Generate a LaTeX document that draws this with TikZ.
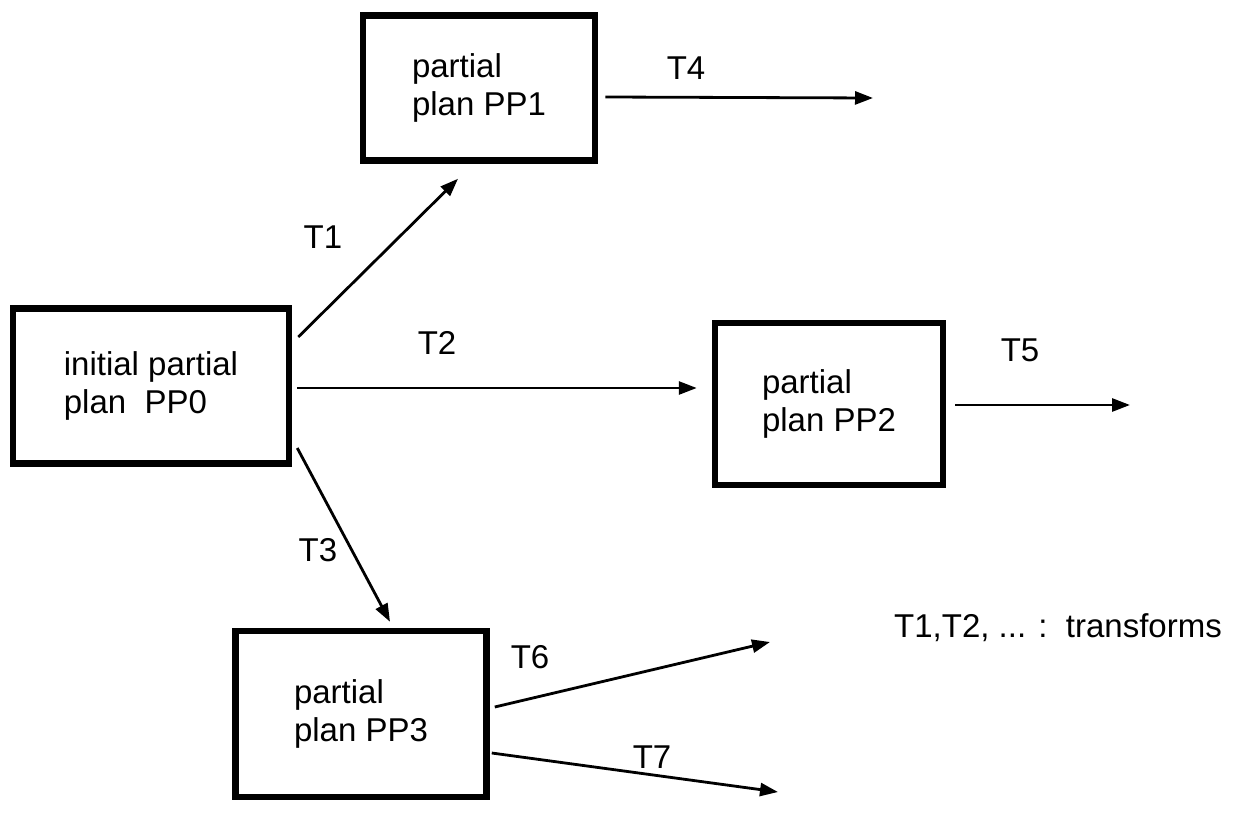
\documentclass[tikz,border=0pt]{standalone}
\usepackage{fontspec}
\setmainfont{Liberation Sans}
\usetikzlibrary{arrows.meta}
\tikzset{
  plan/.style={draw, rectangle, line width=6.5pt, align=left, inner sep=0pt},
  arr/.style={line width=2.8pt, -{Triangle[length=18pt,width=13pt]}},
  lbl/.style={inner sep=0pt}
}
\begin{document}
\begin{tikzpicture}[x=1pt, y=-1pt, font=\fontsize{33}{38}\selectfont]
        \useasboundingbox (0,0) rectangle (1233,813);
        % Plans
        % Define the nodes
        \node[plan, minimum width=276pt, minimum height=155pt] (pp0) at (151,386) {initial partial\\plan~~PP0};
        \node[plan, minimum width=232pt, minimum height=145pt] (pp1) at (479,88) {partial\\plan PP1};
        \node[plan, minimum width=228pt, minimum height=162pt] (pp2) at (829,404) {partial\\plan PP2};
        \node[plan, minimum width=251pt, minimum height=166pt] (pp3) at (361,714) {partial\\plan PP3};
        % Free ends
        \coordinate (e4) at (873,98);
        \coordinate (e5) at (1130,405);
        \coordinate (e6) at (770,642);
        \coordinate (e7) at (778,792);

        % Transforms
        % Connect the nodes
        \draw[arr] ([xshift=6pt,yshift=49pt]pp0.east) -- ([xshift=-21pt,yshift=-15pt]pp1.south);
        \draw[arr] ([xshift=5pt,yshift=-2pt]pp0.east) -- ([xshift=-15pt,yshift=16pt]pp2.west);
        \draw[arr] ([xshift=5pt,yshift=-62pt]pp0.east) -- ([xshift=29pt,yshift=6pt]pp3.north);
        \draw[arr] ([xshift=7pt,yshift=-9pt]pp1.east) -- (e4);
        \draw[arr] ([xshift=9pt,yshift=-1pt]pp2.east) -- (e5);
        \draw[arr] ([xshift=5pt,yshift=7pt]pp3.east) -- (e6);
        \draw[arr] ([xshift=2pt,yshift=-39pt]pp3.east) -- (e7);

        % Labels
        \node[lbl] (t1) at (323,237) {T1};
        \node[lbl] (t2) at (437,343) {T2};
        \node[lbl] (t3) at (318,550) {T3};
        \node[lbl] (t4) at (686,68) {T4};
        \node[lbl] (t5) at (1020,350) {T5};
        \node[lbl] (t6) at (530,657) {T6};
        \node[lbl] (t7) at (652,757) {T7};
        \node[lbl] (key) at (1058,628) {T1,T2, ... :~~transforms};
    \end{tikzpicture}
\end{document}
